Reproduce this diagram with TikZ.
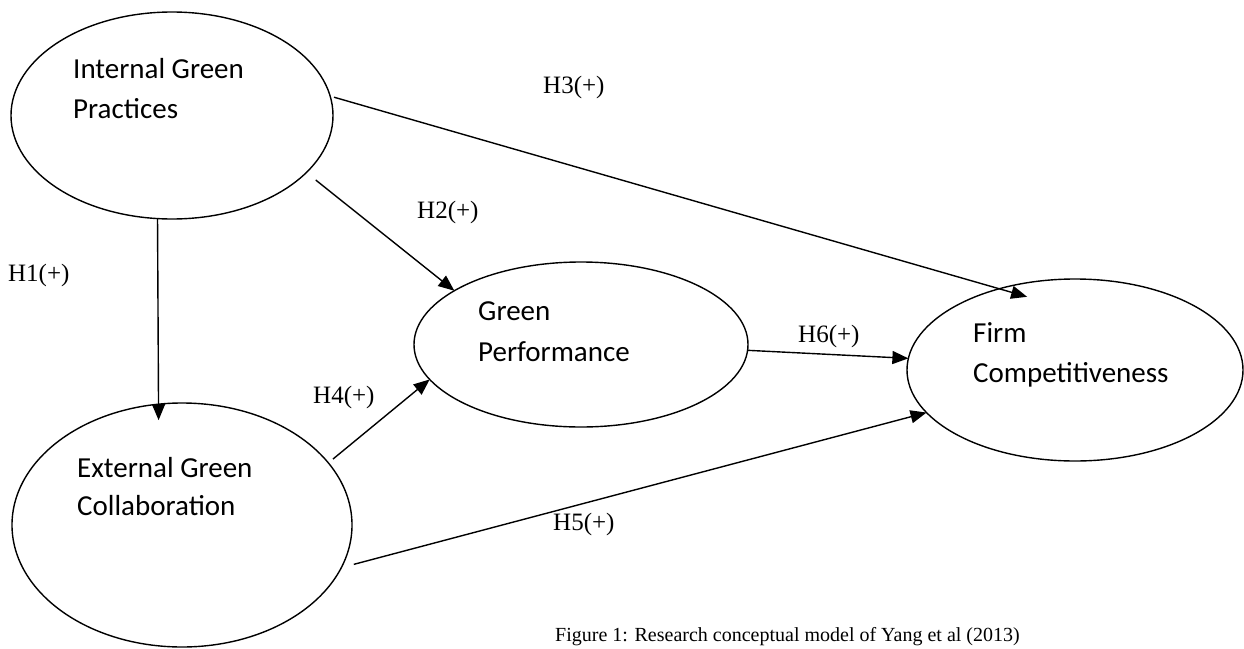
\documentclass[tikz,border=0pt]{standalone}
\usepackage{fontspec}
\setmainfont{Liberation Serif}
\newfontfamily\calib{Carlito}
\usetikzlibrary{arrows.meta,shapes.geometric}
\begin{document}
\begin{tikzpicture}[x=1pt,y=-1pt,
  ell/.style={ellipse,draw,line width=1.4pt,inner sep=0pt,outer sep=0pt},
  lbl/.style={anchor=base west,inner sep=0pt,font=\fontsize{25}{30}\selectfont},
  ctext/.style={anchor=base west,inner sep=0pt,font=\calib\fontsize{29}{35}\selectfont},
  arr/.style={line width=1.4pt,-{Triangle[length=16pt,width=13pt]}}]
\useasboundingbox (0,0) rectangle (1244,648);
% ellipses
\node[ell,minimum width=322pt,minimum height=207pt] (igp) at (172,115.5) {};
\node[ell,minimum width=340pt,minimum height=244pt] (egc) at (182,525) {};
\node[ell,minimum width=334pt,minimum height=165pt] (gp) at (581,344.5) {};
\node[ell,minimum width=336pt,minimum height=182pt] (fc) at (1075,370) {};
% ellipse texts
\node[ctext] (igp1) at (73,78) {Internal Green};
\node[ctext] (igp2) at (73,118) {Practices};
\node[ctext] (egc1) at (77,477) {External Green};
\node[ctext] (egc2) at (77,515) {Collaboration};
\node[ctext] (gp1) at (478,320) {Green};
\node[ctext] (gp2) at (478,361) {Performance};
\node[ctext] (fc1) at (973,342) {Firm};
\node[ctext] (fc2) at (973,382) {Competitiveness};
% arrows
\draw[arr,shorten >=-16pt] (igp.-98.3) -- (egc.101.7);
\draw[arr,shorten <=12pt] (igp.-23) -- (gp.157.7);
\draw[arr,shorten <=4pt,shorten >=-29pt] (igp.7.3) -- (fc.133.1);
\draw[arr,shorten <=6pt] (egc.23.9) -- (gp.193.9);
\draw[arr,shorten <=13pt] (egc.-15.1) -- (fc.196.7);
\draw[arr] (gp.-2.9) -- (fc.176.6);
% labels
\node[lbl] (h1) at (8,281) {H1(+)};
\node[lbl] (h2) at (417,218) {H2(+)};
\node[lbl] (h3) at (543,93) {H3(+)};
\node[lbl] (h4) at (313,403) {H4(+)};
\node[lbl] (h5) at (553,530) {H5(+)};
\node[lbl] (h6) at (798,342) {H6(+)};
% caption
\node[anchor=base west,inner sep=0pt,font=\fontsize{20}{24}\selectfont] (cap) at (555,641) {Figure 1: Research conceptual model of Yang et al (2013)};
\end{tikzpicture}
\end{document}
